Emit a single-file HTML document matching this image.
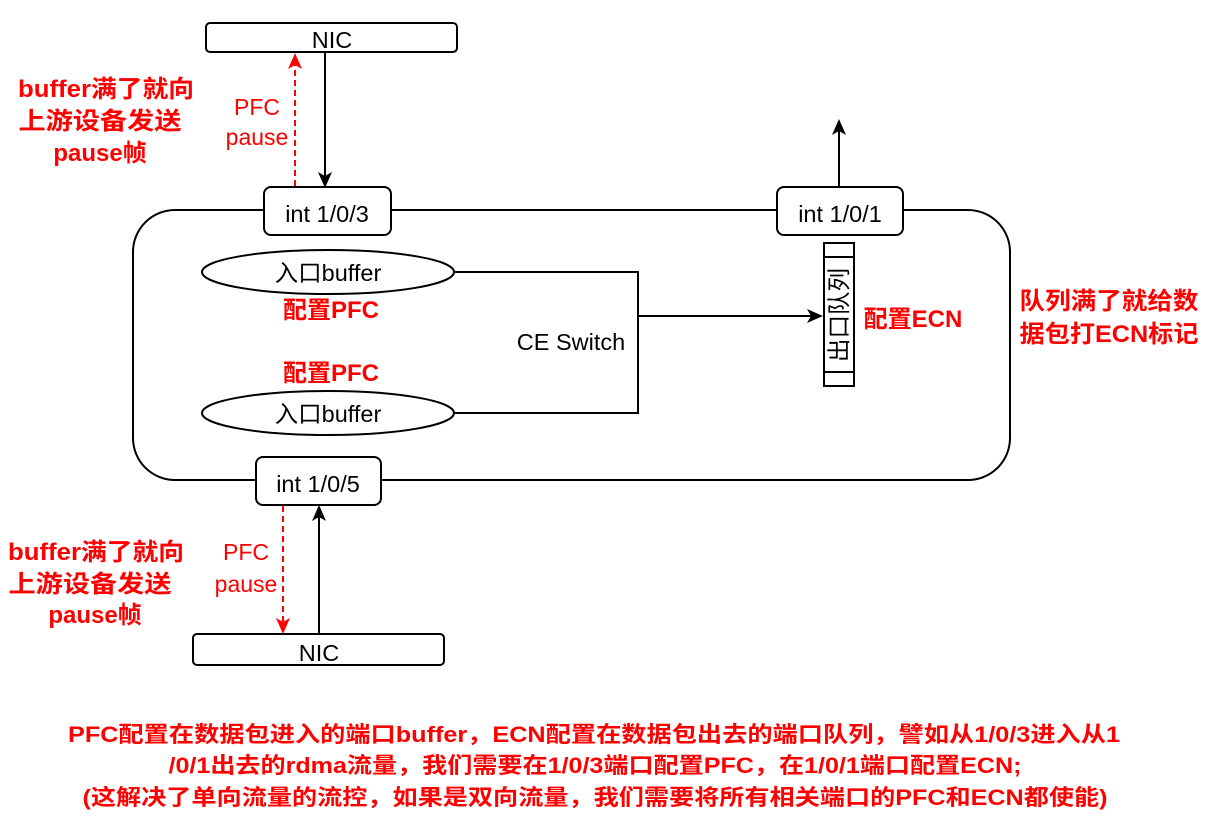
<!DOCTYPE html>
<html><head><meta charset="utf-8"><style>
html,body{margin:0;padding:0;background:#fff;}
svg{display:block;}
text{font-family:"Liberation Sans","Noto Sans CJK SC",sans-serif;}
.r{fill:#ff0000;font-weight:bold;font-size:24px;}
.n{fill:#ff0000;font-size:23px;}
.b{fill:#000;font-size:23.5px;}
.t{fill:#ff0000;font-weight:bold;font-size:22px;}
</style></head><body>
<svg width="1211" height="817" viewBox="0 0 1211 817" xmlns="http://www.w3.org/2000/svg">
<defs>
<marker id="ab" markerWidth="16" markerHeight="16" refX="13" refY="8" orient="auto" markerUnits="userSpaceOnUse"><path d="M0,1 L16,8 L0,15 L4,8 Z" fill="#000"/></marker>
<marker id="ar" markerWidth="16" markerHeight="16" refX="13" refY="8" orient="auto" markerUnits="userSpaceOnUse"><path d="M0,1 L16,8 L0,15 L4,8 Z" fill="#ff0000"/></marker>
</defs>
<g fill="#fff" stroke="#000" stroke-width="2">
<rect x="133" y="210" width="877" height="270" rx="42"/>
<rect x="206" y="23" width="251" height="29" rx="4"/>
<rect x="193" y="634" width="251" height="31" rx="4"/>
<rect x="264" y="187" width="127" height="48" rx="7"/>
<rect x="777" y="187" width="126" height="48" rx="7"/>
<rect x="256" y="457" width="125" height="48" rx="7"/>
<ellipse cx="328" cy="272" rx="126" ry="22"/>
<ellipse cx="328" cy="413" rx="126" ry="22"/>
<rect x="824" y="243" width="30" height="143"/>
<line x1="824" y1="257" x2="854" y2="257"/>
<line x1="824" y1="372" x2="854" y2="372"/>
</g>
<g fill="none" stroke="#000" stroke-width="2">
<polyline points="454,272 638,272 638,413 454,413"/>
<line x1="638" y1="316" x2="820" y2="316" marker-end="url(#ab)"/>
<line x1="839" y1="186" x2="839" y2="122" marker-end="url(#ab)"/>
<line x1="325" y1="53" x2="325" y2="185" marker-end="url(#ab)"/>
<line x1="319" y1="633" x2="319" y2="508" marker-end="url(#ab)"/>
</g>
<g fill="none" stroke="#ff0000" stroke-width="2" stroke-dasharray="6,4">
<line x1="295" y1="186" x2="295" y2="56" marker-end="url(#ar)"/>
<line x1="283" y1="506" x2="283" y2="631" marker-end="url(#ar)"/>
</g>
<g class="b" text-anchor="middle">
<text x="332" y="48">NIC</text>
<text x="319" y="661">NIC</text>
<text x="327" y="222">int 1/0/3</text>
<text x="840" y="222">int 1/0/1</text>
<text x="318" y="492">int 1/0/5</text>
<text x="328" y="281">入口buffer</text>
<text x="328" y="422">入口buffer</text>
<text x="571" y="350">CE Switch</text>
<text transform="translate(847,315) rotate(-90)" y="0">出口队列</text>
</g>
<g class="n" text-anchor="middle">
<text x="257" y="115">PFC</text>
<text x="257" y="145">pause</text>
<text x="246" y="560">PFC</text>
<text x="246" y="592">pause</text>
</g>
<g class="r" text-anchor="middle">
<text x="106" y="97" textLength="176" lengthAdjust="spacingAndGlyphs">buffer满了就向</text>
<text x="100" y="129" textLength="163" lengthAdjust="spacingAndGlyphs">上游设备发送</text>
<text x="100" y="161">pause帧</text>
<text x="96" y="560" textLength="176" lengthAdjust="spacingAndGlyphs">buffer满了就向</text>
<text x="90" y="592" textLength="163" lengthAdjust="spacingAndGlyphs">上游设备发送</text>
<text x="95" y="623">pause帧</text>
<text x="331" y="318">配置PFC</text>
<text x="331" y="381">配置PFC</text>
<text x="913" y="327">配置ECN</text>
<text x="1109" y="309" textLength="179" lengthAdjust="spacingAndGlyphs">队列满了就给数</text>
<text x="1109" y="342" textLength="179" lengthAdjust="spacingAndGlyphs">据包打ECN标记</text>
</g>
<g class="t" text-anchor="middle">
<text x="594" y="742" textLength="1052" lengthAdjust="spacingAndGlyphs">PFC配置在数据包进入的端口buffer，ECN配置在数据包出去的端口队列，譬如从1/0/3进入从1</text>
<text x="595" y="773" textLength="853" lengthAdjust="spacingAndGlyphs">/0/1出去的rdma流量，我们需要在1/0/3端口配置PFC，在1/0/1端口配置ECN;</text>
<text x="595" y="805" textLength="1025" lengthAdjust="spacingAndGlyphs">(这解决了单向流量的流控，如果是双向流量，我们需要将所有相关端口的PFC和ECN都使能)</text>
</g>
</svg>
</body></html>
